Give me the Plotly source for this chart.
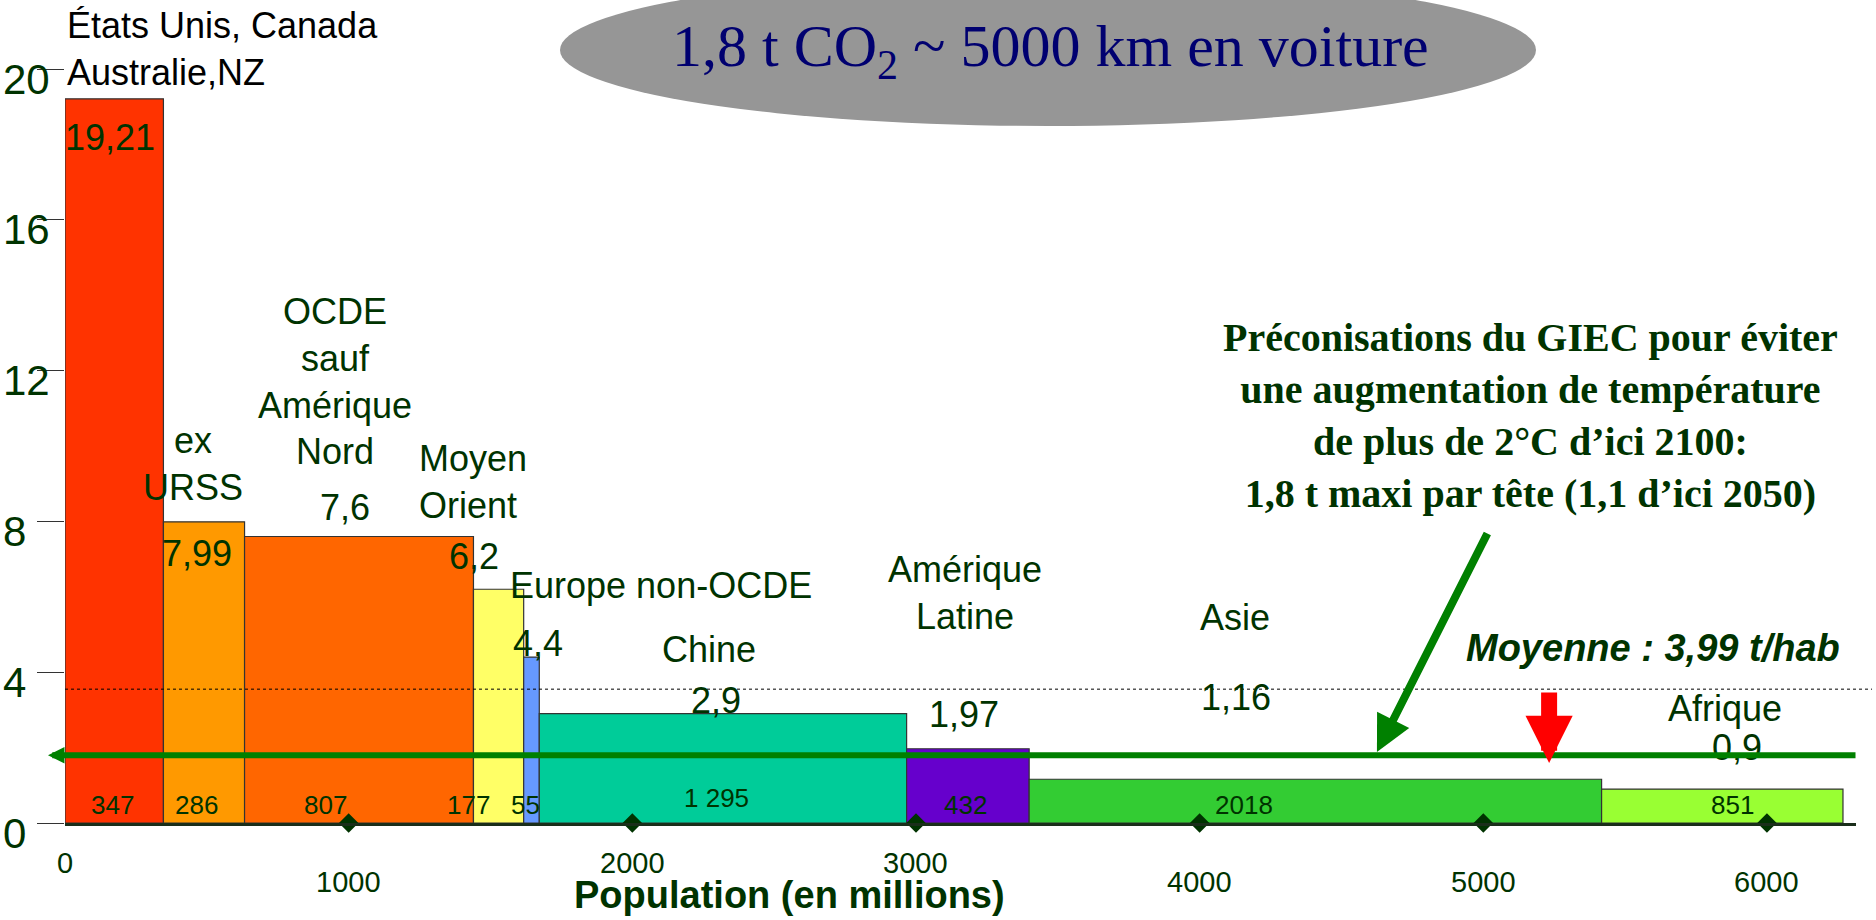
import plotly.graph_objects as go

# ---------------- data ----------------
regions = ["États Unis, Canada<br>Australie,NZ", "ex<br>URSS", "OCDE<br>sauf<br>Amérique<br>Nord",
           "Moyen<br>Orient", "Europe non-OCDE", "Chine", "Amérique<br>Latine", "Asie", "Afrique"]
co2_per_capita = [19.21, 7.99, 7.6, 6.2, 4.4, 2.9, 1.97, 1.16, 0.9]
value_labels = ["19,21", "7,99", "7,6", "6,2", "4,4", "2,9", "1,97", "1,16", "0,9"]
population = [347, 286, 807, 177, 55, 1295, 432, 2018, 851]
population_labels = ["347", "286", "807", "177", "55", "1 295", "432", "2018", "851"]
x_ticks = [0, 1000, 2000, 3000, 4000, 5000, 6000]
x_tick_labels = ["0", "1000", "2000", "3000", "4000", "5000", "6000"]
y_ticks = [0, 4, 8, 12, 16, 20]
y_tick_labels = ["0", "4", "8", "12", "16", "20"]
mean_label = "Moyenne : 3,99 t/hab"
mean_line_level = 3.55          # dotted line as drawn in the picture
giec_target = 1.8               # t CO2 per head
mean_arrow_x = 5232             # red arrow position (population axis)
title_text = "1,8 t CO<sub>2</sub> ~ 5000 km en voiture"
giec_text = ("<b>Préconisations du GIEC pour éviter<br>une augmentation de température<br>"
             "de plus de 2°C d’ici 2100:<br>1,8 t maxi par tête (1,1 d’ici 2050)</b>")

# ---------------- styles / positions ----------------
colors = ["#FF3300", "#FF9900", "#FF6600", "#FFFF66", "#6699FF", "#00CC99", "#6600CC", "#33CC33", "#99FF33"]
name_pos = [(0, 20.53), (451, 9.52), (952, 11.72), (1241, 9.05), (1562, 6.29),
            (2270, 4.59), (3173, 6.09), (4125, 5.44), (5852, 3.05)]
name_anchor = ["left", "center", "center", "left", "left", "center", "center", "center", "center"]
value_pos = [(159, 18.17), (465, 7.14), (987, 8.38), (1442, 7.06), (1667, 4.75),
             (2295, 3.24), (3169, 2.89), (4128, 3.32), (5894, 1.99)]
pop_pos = [(166, 0.48), (465, 0.48), (917, 0.48), (1424, 0.48), (1622, 0.48),
           (2295, 0.66), (3176, 0.48), (4156, 0.48), (5877, 0.48)]
x_tick_row = [0, 1, 0, 0, 1, 1, 1]

DARK = "#003300"
SANS = "Liberation Sans, Arial, sans-serif"
SERIF = "Liberation Serif, Times New Roman, serif"

W, H = 1876, 920
ML, MR, MT, MB = 65, 20, 69, 97
PW, PH = W - ML - MR, H - MT - MB
PX_PER_UNIT_X = 0.28366
x_max = PW / PX_PER_UNIT_X
Y_MAX = 20

# bar geometry from data
starts = []
acc = 0
for p in population:
    starts.append(acc)
    acc += p
centers = [s + p / 2 for s, p in zip(starts, population)]

fig = go.Figure()
fig.add_trace(go.Bar(
    x=centers, y=co2_per_capita, width=population,
    marker=dict(color=colors, line=dict(color="#333333", width=1.2)),
    showlegend=False, hoverinfo="skip"))

# diamond tick marks on the x axis
fig.add_trace(go.Scatter(
    x=x_ticks[1:], y=[0] * (len(x_ticks) - 1), mode="markers",
    marker=dict(symbol="diamond", size=15, color=DARK),
    cliponaxis=False, showlegend=False, hoverinfo="skip"))

ann = []
# region names
for i, (txt, (px, py)) in enumerate(zip(regions, name_pos)):
    if py > Y_MAX:   # above the plotting area: place in paper coordinates
        yref, yv = "paper", py / Y_MAX
    else:
        yref, yv = "y", py
    ann.append(dict(x=px, y=yv, xref="x", yref=yref, text=txt, showarrow=False,
                    xanchor=name_anchor[i], yanchor="middle", align=name_anchor[i],
                    font=dict(family=SANS, size=36, color="black" if i == 0 else DARK)))
# value labels
for txt, (px, py) in zip(value_labels, value_pos):
    ann.append(dict(x=px, y=py, xref="x", yref="y", text=txt, showarrow=False,
                    xanchor="center", yanchor="middle",
                    font=dict(family=SANS, size=36, color=DARK)))
# population labels
for txt, (px, py) in zip(population_labels, pop_pos):
    ann.append(dict(x=px, y=py, xref="x", yref="y", text=txt, showarrow=False,
                    xanchor="center", yanchor="middle",
                    font=dict(family=SANS, size=26, color=DARK)))
# x tick labels
for v, txt, row in zip(x_ticks, x_tick_labels, x_tick_row):
    ann.append(dict(x=v, y=0, xref="x", yref="y", text=txt, showarrow=False,
                    xanchor="center", yanchor="middle", yshift=-40 - 19 * row,
                    font=dict(family=SANS, size=29, color=DARK)))
# y tick labels (left aligned)
for v, txt in zip(y_ticks, y_tick_labels):
    ann.append(dict(x=0, y=v, xref="paper", yref="y", text=txt, showarrow=False,
                    xanchor="left", yanchor="middle", xshift=-ML + 1, yshift=-10,
                    font=dict(family=SANS, size=42, color=DARK)))
# x axis title
ann.append(dict(x=(789 - ML) / PW, y=0, xref="paper", yref="paper",
                text="<b>Population (en millions)</b>", showarrow=False,
                xanchor="center", yanchor="middle", yshift=-72,
                font=dict(family=SANS, size=38, color=DARK)))
# title in ellipse
ann.append(dict(x=(1050 - ML) / PW, y=(H - MB - 50) / PH, xref="paper", yref="paper",
                text=title_text, showarrow=False, xanchor="center", yanchor="middle",
                font=dict(family=SERIF, size=60, color="#000070")))
# GIEC text
ann.append(dict(x=5165, y=10.8, xref="x", yref="y", text=giec_text, showarrow=False,
                xanchor="center", yanchor="middle", align="center",
                font=dict(family=SERIF, size=40, color=DARK)))
# mean label
ann.append(dict(x=5598, y=4.64, xref="x", yref="y", text="<b><i>" + mean_label + "</i></b>",
                showarrow=False, xanchor="center", yanchor="middle",
                font=dict(family=SANS, size=38, color=DARK)))
# green horizontal arrow at the GIEC target
ann.append(dict(x=(48 - ML) / PW, y=giec_target, xref="paper", yref="y",
                ax=1809, ay=0, axref="pixel", ayref="pixel", text="", showarrow=True,
                arrowhead=2, arrowwidth=6, arrowsize=0.55, arrowcolor="#008000"))
# green diagonal arrow from the GIEC text
ann.append(dict(x=4625, y=1.88, xref="x", yref="y", ax=5017, ay=7.72, axref="x", ayref="y",
                text="", showarrow=True, arrowhead=2, arrowwidth=8, arrowsize=0.9, arrowcolor="#008000"))
# red arrow
ann.append(dict(x=mean_arrow_x, y=1.59, xref="x", yref="y", ax=0, ay=-72, axref="pixel", ayref="pixel",
                text="", showarrow=True, arrowhead=2, arrowwidth=16, arrowsize=0.59, arrowcolor="#FF0000"))

shapes = [
    # grey ellipse behind the title
    dict(type="circle", xref="paper", yref="paper",
         x0=(560 - ML) / PW, x1=(1536 - ML) / PW,
         y0=(H - MB - 126) / PH, y1=(H - MB + 26) / PH,
         fillcolor="#969696", line=dict(width=0), layer="below"),
    # dotted mean line
    dict(type="line", xref="paper", yref="y", x0=0, x1=(1872 - ML) / PW,
         y0=mean_line_level, y1=mean_line_level, line=dict(color="black", width=1, dash="dot")),
]

fig.update_layout(
    width=W, height=H, margin=dict(l=ML, r=MR, t=MT, b=MB),
    paper_bgcolor="white", plot_bgcolor="white",
    annotations=ann, shapes=shapes, showlegend=False,
    xaxis=dict(range=[0, x_max], showticklabels=False, ticks="", showgrid=False, zeroline=False,
               showline=True, linecolor="#1a2e1a", linewidth=3),
    yaxis=dict(range=[0, Y_MAX], tickvals=y_ticks, ticks="outside", ticklen=27, tickcolor="#333333",
               tickwidth=1, showticklabels=False, showgrid=False, zeroline=False, showline=False),
)

fig.write_html("out.html", config={"displayModeBar": False},
               post_script="document.body.style.margin='0';")
